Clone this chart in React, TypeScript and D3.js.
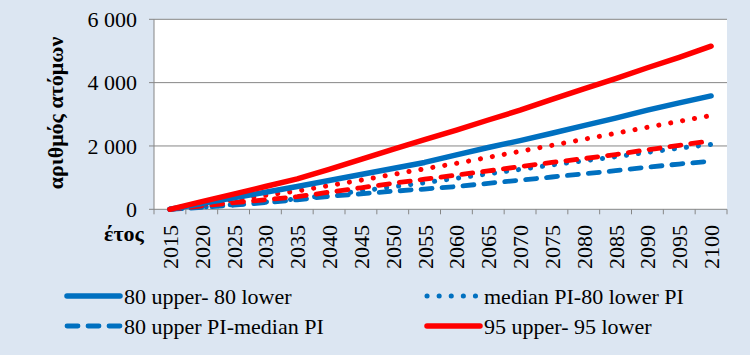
import React from "react";
import * as d3 from "d3";

const years = ["2015","2020","2025","2030","2035","2040","2045","2050","2055","2060","2065","2070","2075","2080","2085","2090","2095","2100"];
const blueSolid = [0,180,360,540,720,910,1100,1290,1480,1720,1950,2170,2400,2640,2880,3130,3360,3580];
const blueDotted = [0,70,150,230,330,450,580,710,840,980,1120,1260,1400,1530,1660,1800,1930,2050];
const blueDashed = [0,60,130,210,300,410,490,570,640,720,820,920,1020,1120,1220,1330,1430,1520];
const redSolid = [0,240,480,720,960,1260,1580,1890,2200,2500,2820,3130,3470,3800,4130,4470,4800,5150];
const redDotted = [0,150,300,440,580,750,920,1100,1280,1450,1640,1830,2020,2210,2400,2590,2780,2960];
const redDashed = [0,110,210,300,400,540,680,820,950,1080,1210,1350,1480,1600,1730,1880,2020,2160];
const yTicks = [0,2000,4000,6000];
const legendLabels = ["80 upper- 80 lower","median PI-80 lower PI","80 upper PI-median PI","95 upper- 95 lower"];

const BLUE = "#0070C0";
const RED = "#FF0000";
const W = 750, H = 355;
const L = 154, R = 727, T = 19.3, B = 209.3;

type Style = { color: string; dash: string | null; width: number };
const solidB: Style = { color: BLUE, dash: null, width: 5.5 };
const dotB: Style = { color: BLUE, dash: "0.1,12", width: 5 };
const dashB: Style = { color: BLUE, dash: "11,10", width: 4.8 };
const solidR: Style = { color: RED, dash: null, width: 5.5 };
const dotR: Style = { color: RED, dash: "0.1,12", width: 5 };
const dashR: Style = { color: RED, dash: "11,10", width: 4.8 };

export default function App() {
  const x = d3.scaleBand<string>().domain(years).range([L, R]);
  const y = d3.scaleLinear().domain([0, 6000]).range([B, T]);
  const line = d3.line<number>()
    .x((_, i) => (x(years[i]) as number) + x.bandwidth() / 2)
    .y((v) => y(v));
  const series: [number[], Style][] = [
    [blueDashed, dashB],
    [blueDotted, dotB],
    [redDashed, dashR],
    [redDotted, dotR],
    [blueSolid, solidB],
    [redSolid, solidR],
  ];
  const font = "'Liberation Serif', 'Times New Roman', Times, serif";
  const boundaries = d3.range(years.length + 1).map((i) => L + i * x.step());
  const legendItems: [string, Style, number, number][] = [
    [legendLabels[0], solidB, 64, 296],
    [legendLabels[1], dotB, 424, 296],
    [legendLabels[2], dashB, 64, 326],
    [legendLabels[3], solidR, 424, 326],
  ];
  return (
    <svg width={W} height={H} style={{ position: "absolute", left: 0, top: 0, fontFamily: font }}>
      <rect x={0} y={0} width={W} height={H} fill="#DCE6F2" />
      <rect x={L} y={T} width={R - L} height={B - T} fill="#FFFFFF" />
      {yTicks.map((t) => (
        <g key={t}>
          {t > 0 && <line x1={L} x2={R} y1={y(t)} y2={y(t)} stroke="#868686" strokeWidth={1} />}
          <line x1={L - 5} x2={L} y1={y(t)} y2={y(t)} stroke="#868686" strokeWidth={1} />
          <text x={137} y={y(t)} dy="0.35em" textAnchor="end" fontSize={22} fill="#000">
            {d3.format(",")(t).replace(",", " ")}
          </text>
        </g>
      ))}
      <line x1={L} x2={L} y1={T} y2={B} stroke="#868686" strokeWidth={1} />
      <line x1={L} x2={R} y1={B} y2={B} stroke="#868686" strokeWidth={1} />
      {boundaries.map((bx, i) => (
        <line key={i} x1={bx} x2={bx} y1={B} y2={B + 5} stroke="#868686" strokeWidth={1} />
      ))}
      {years.map((yr) => {
        const cx = (x(yr) as number) + x.bandwidth() / 2;
        return (
          <text key={yr} transform={`translate(${cx + 8},${225}) rotate(-90)`} textAnchor="end" fontSize={22} fill="#000">
            {yr}
          </text>
        );
      })}
      <text x={124} y={241} textAnchor="middle" fontSize={22} fontWeight="bold" fill="#000">έτος</text>
      <text transform={`translate(63,113) rotate(-90)`} textAnchor="middle" fontSize={22} fontWeight="bold" fill="#000">
        αριθμός ατόμων
      </text>
      {series.map(([vals, s], i) => (
        <path key={i} d={line(vals) || ""} fill="none" stroke={s.color} strokeWidth={s.width}
          strokeDasharray={s.dash || undefined} strokeLinecap="round" strokeLinejoin="round" />
      ))}
      {legendItems.map(([label, s, lx, ly]) => (
        <g key={label}>
          <line x1={lx + 3} x2={lx + 56} y1={ly} y2={ly} stroke={s.color} strokeWidth={s.width}
            strokeDasharray={s.dash || undefined} strokeLinecap="round" />
          <text x={lx + 60} y={ly} dy="0.35em" fontSize={22} fill="#000">{label}</text>
        </g>
      ))}
    </svg>
  );
}
